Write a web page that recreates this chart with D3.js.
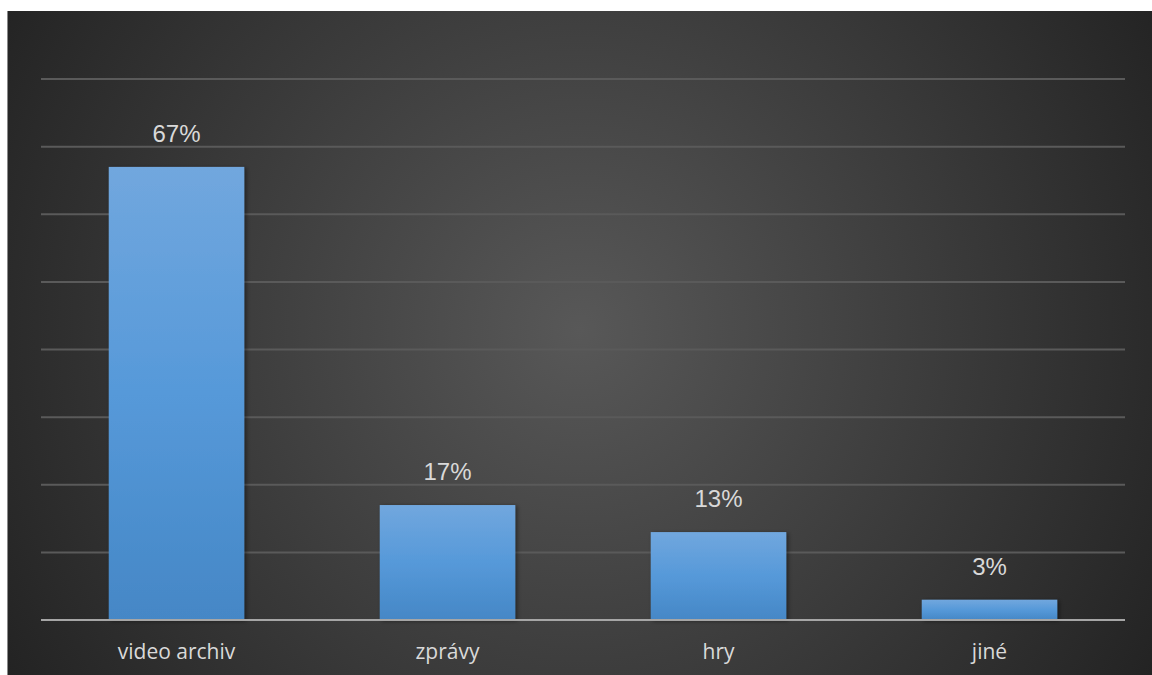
<!DOCTYPE html>
<html>
<head>
<meta charset="utf-8">
<script src="https://cdn.jsdelivr.net/npm/d3@7"></script>
<style>
  html, body { margin: 0; padding: 0; background: #ffffff; }
  svg { display: block; }
</style>
</head>
<body>
<svg id="chart" width="1152" height="675"></svg>
<script>
// Category names and shares (percent)
const categories = ["video archiv", "zprávy", "hry", "jiné"];
const values = [67, 17, 13, 3];
const yTicks = [0, 10, 20, 30, 40, 50, 60, 70, 80];

const svg = d3.select("#chart");
const W = 1152, H = 675;
const panel = { x: 7, y: 11, w: W - 7, h: H - 11 };
const plot = { left: 41, right: 1125, top: 79, bottom: 620 };

const defs = svg.append("defs");

const bg = defs.append("radialGradient")
  .attr("id", "bgGrad")
  .attr("gradientUnits", "userSpaceOnUse")
  .attr("cx", 580).attr("cy", 330).attr("r", 720);
bg.append("stop").attr("offset", "0%").attr("stop-color", "#585858");
bg.append("stop").attr("offset", "100%").attr("stop-color", "#1f1f1f");

const barGrad = defs.append("linearGradient")
  .attr("id", "barGrad").attr("x1", 0).attr("y1", 0).attr("x2", 0).attr("y2", 1);
barGrad.append("stop").attr("offset", "0%").attr("stop-color", "#71a7de");
barGrad.append("stop").attr("offset", "50%").attr("stop-color", "#5699d9");
barGrad.append("stop").attr("offset", "100%").attr("stop-color", "#4587c6");

const shadow = defs.append("filter").attr("id", "barShadow")
  .attr("x", "-10%").attr("y", "-10%").attr("width", "130%").attr("height", "130%");
shadow.append("feDropShadow")
  .attr("dx", 2).attr("dy", 1).attr("stdDeviation", 2)
  .attr("flood-color", "#000").attr("flood-opacity", 0.45);

// Panel background
svg.append("rect")
  .attr("x", panel.x).attr("y", panel.y)
  .attr("width", panel.w).attr("height", panel.h)
  .attr("fill", "url(#bgGrad)");
svg.append("line")
  .attr("x1", panel.x + 0.5).attr("x2", panel.x + 0.5)
  .attr("y1", panel.y).attr("y2", H)
  .attr("stroke", "#8a8a8a").attr("stroke-width", 1);

const x = d3.scaleBand()
  .domain(categories)
  .range([plot.left, plot.right])
  .paddingInner(0.5)
  .paddingOuter(0.25);

const y = d3.scaleLinear()
  .domain([0, 80])
  .range([plot.bottom, plot.top]);

// Horizontal gridlines
svg.append("g")
  .selectAll("line")
  .data(yTicks.filter(t => t > 0))
  .join("line")
  .attr("x1", plot.left).attr("x2", plot.right)
  .attr("y1", d => y(d)).attr("y2", d => y(d))
  .attr("stroke", "#5a5a5a").attr("stroke-width", 2);

// Bars
svg.append("g")
  .selectAll("rect")
  .data(values)
  .join("rect")
  .attr("x", (d, i) => x(categories[i]))
  .attr("width", x.bandwidth())
  .attr("y", d => y(d))
  .attr("height", d => y(0) - y(d))
  .attr("fill", "url(#barGrad)")
  .attr("filter", "url(#barShadow)");

// Baseline axis
svg.append("line")
  .attr("x1", plot.left).attr("x2", plot.right)
  .attr("y1", y(0)).attr("y2", y(0))
  .attr("stroke", "#a6a6a6").attr("stroke-width", 2);

// Value labels
svg.append("g")
  .selectAll("text")
  .data(values)
  .join("text")
  .attr("x", (d, i) => x(categories[i]) + x.bandwidth() / 2)
  .attr("y", d => y(d) - 25)
  .attr("text-anchor", "middle")
  .attr("font-family", "'Liberation Sans', Arial, sans-serif")
  .attr("font-size", 24)
  .attr("fill", "#d9d9d9")
  .text(d => d + "%");

// Category axis labels
const xAxis = d3.axisBottom(x).tickSize(0).tickPadding(0);
const gx = svg.append("g")
  .attr("transform", `translate(0,${y(0)})`)
  .call(xAxis);
gx.select(".domain").remove();
gx.selectAll("text")
  .attr("dy", 0)
  .attr("y", 39)
  .attr("font-family", "'Open Sans', 'Noto Sans', sans-serif")
  .attr("font-size", 21)
  .attr("fill", "#d9d9d9");
</script>
</body>
</html>
